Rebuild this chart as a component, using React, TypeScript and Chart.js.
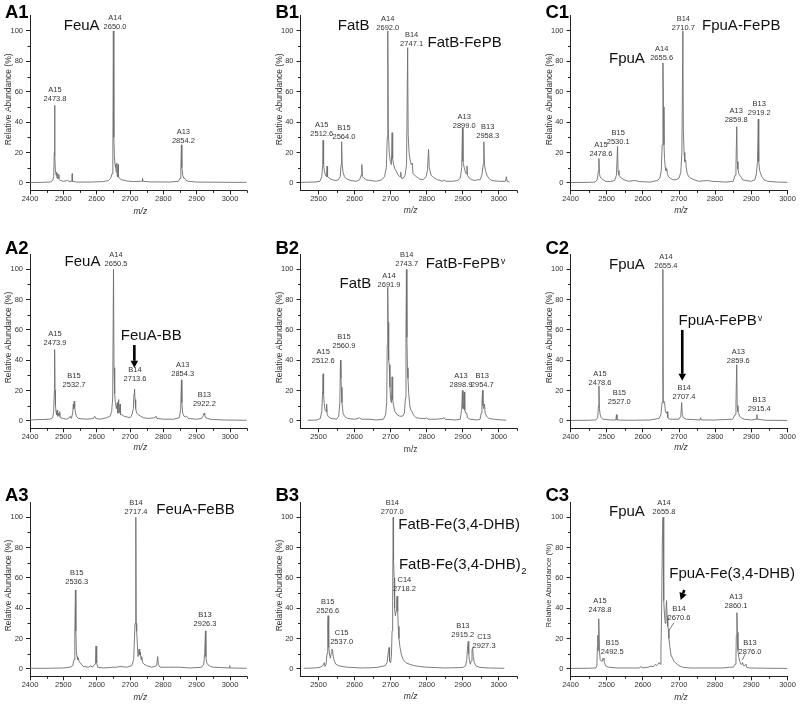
import React, { useEffect, useRef } from "react";
import { Chart, registerables } from "chart.js";
Chart.register(...registerables);

type Pt = [number, number];

// ---------- spectra (m/z, relative abundance %) ----------
const specA1: Pt[] = [[2400,0.2],[2440,0.3],[2462,0.6],[2468,1.5],[2471,4],[2473,20],[2473.8,51],[2474.8,18],[2476,9],[2478,5],[2479.5,7],[2481,3],[2483,6],[2484.5,3],[2486.5,5.5],[2488,2],[2492,1.5],[2500,1],[2512,1.5],[2520,0.8],[2525.5,1],[2526.5,6],[2527.5,1],[2540,0.5],[2580,0.5],[2620,0.8],[2635,1.5],[2642,3],[2646,6],[2648.5,15],[2650,100],[2651.5,30],[2653,18],[2655,12],[2657,10],[2659,7],[2660.5,13],[2661.5,5],[2663,4],[2664.5,12],[2665.5,4],[2668,3],[2675,2],[2690,1.2],[2710,0.8],[2736,1],[2737.5,3],[2739,1],[2760,0.6],[2820,0.5],[2845,1],[2850,3],[2852.5,8],[2854.2,25],[2855.5,10],[2858,5],[2861,3],[2864,3],[2868,1.5],[2875,1],[2900,0.5],[3000,0.3],[3050,0.3]];
const specA2: Pt[] = [[2400,0.5],[2430,0.8],[2460,1],[2468,2],[2471,6],[2473,20],[2473.9,47],[2475,20],[2476.5,10],[2478,6],[2480,4],[2481.5,7],[2483,3],[2485,5],[2487,3],[2489,6],[2491,2],[2500,1.5],[2510,1],[2518,2],[2521,3],[2524,1.5],[2528,5],[2530,11],[2531,8],[2532.7,13],[2534,9],[2536,6],[2539,3],[2545,1.5],[2570,1],[2590,1.5],[2594,3],[2597,1.5],[2610,1],[2630,2],[2640,3],[2645,6],[2648,15],[2650.5,100],[2652,35],[2654,18],[2656,12],[2659,8],[2662,12],[2663.5,5],[2666,14],[2667.5,5],[2670,11],[2671.5,4],[2675,4],[2682,3],[2690,2.5],[2700,2],[2706,4],[2710,8],[2712,18],[2713.6,21],[2715,14],[2717,8],[2720,5],[2725,4],[2732,3],[2740,2],[2755,1.5],[2775,2],[2778,3],[2781,1.5],[2800,1],[2830,1],[2848,2],[2852,8],[2854.3,27],[2855.5,12],[2858,5],[2862,3],[2866,2.5],[2870,3],[2875,1.5],[2900,1],[2915,1.5],[2919,3],[2922.2,5],[2924,4],[2927,2],[2940,1],[2980,0.5],[3050,0.3]];
const specA3: Pt[] = [[2400,0.3],[2450,0.3],[2500,0.5],[2520,1],[2528,2],[2532,6],[2534.5,25],[2536.3,52],[2537.5,25],[2539,12],[2541,8],[2543,6],[2545,7],[2547,5],[2550,4],[2554,3],[2560,1.5],[2575,1],[2583,2],[2586,1],[2596,3],[2598,15],[2600,4],[2603,1],[2620,0.5],[2650,1],[2660,1],[2670,1.5],[2690,1],[2705,2],[2711,6],[2715,30],[2717.4,100],[2718.5,30],[2720,25],[2722,16],[2724,8],[2727,13],[2729,9],[2731,11],[2733,6],[2735,8],[2738,4],[2742,3],[2750,2],[2765,1],[2780,2],[2783,8],[2785,3],[2790,1],[2815,1],[2850,1],[2880,0.5],[2915,1],[2921,3],[2924,10],[2926.3,25],[2927.5,8],[2930,4],[2934,2.5],[2938,2],[2942,1.5],[2950,1],[2997,0.5],[2999,2],[3001,0.5],[3050,0.3]];
const specB1: Pt[] = [[2450,0.3],[2490,0.5],[2504,1],[2509,4],[2511.5,12],[2512.6,28],[2514,12],[2516,8],[2519,5],[2522,4],[2523.5,11],[2525,4],[2530,3],[2538,2],[2548,1.5],[2555,2],[2560,4],[2562.5,12],[2564,27],[2565.5,12],[2568,7],[2572,4],[2578,2.5],[2590,1.5],[2605,1],[2614,2],[2618,5],[2620,12],[2622,4],[2626,3],[2632,2],[2645,1.5],[2660,1],[2675,2],[2683,4],[2688,10],[2690.5,30],[2692,100],[2693.5,35],[2696,20],[2699,14],[2702,12],[2704,33],[2705.5,16],[2708,12],[2712,9],[2717,7],[2721,5],[2726,4],[2728,7],[2730,3],[2735,3],[2740,5],[2744,12],[2747.1,89],[2748.5,32],[2751,20],[2754,15],[2757,12],[2760,13],[2762,6],[2766,5],[2772,4],[2780,2.5],[2790,2],[2798,4],[2802,8],[2805,22],[2807,10],[2812,5],[2817,4],[2822,3],[2830,2],[2845,1],[2849,2],[2852,1],[2870,1],[2885,1.5],[2893,3],[2897,10],[2899,36],[2900.5,14],[2903,11],[2906,8],[2909,6],[2911.5,11],[2913,5],[2918,3],[2925,2],[2935,1.5],[2940,2],[2948,2],[2953,5],[2956.5,12],[2958.3,27],[2960,12],[2963,8],[2967,5],[2972,3],[2980,1.5],[3000,1],[3018,1],[3021,4],[3023,1],[3030,0.5]];
const specB2: Pt[] = [[2470,0.3],[2495,0.5],[2505,1.5],[2509,6],[2511.5,20],[2512.6,31],[2514,18],[2515.5,12],[2518,7],[2521,6],[2522.5,11],[2524,4],[2528,2.5],[2535,1.5],[2550,1],[2556,3],[2559,12],[2560.9,40],[2562,28],[2563.5,22],[2565,12],[2568,5],[2572,3],[2580,1.5],[2600,1],[2610,1.5],[2614,2],[2618,1],[2640,1],[2660,0.5],[2680,1],[2686,4],[2689,12],[2690.5,50],[2691.9,88],[2693,65],[2694.5,40],[2696,37],[2698,22],[2700,14],[2702,12],[2704,29],[2705.5,14],[2708,10],[2712,6],[2718,4],[2725,3],[2733,3],[2738,5],[2741,15],[2742.5,60],[2743.7,100],[2745,55],[2746.5,35],[2748,28],[2750,18],[2753,10],[2756,7],[2759,6],[2763,4],[2770,2],[2785,1.5],[2797,1.5],[2800,2],[2803,1],[2830,1],[2845,1.5],[2848,2],[2851,1],[2880,0.5],[2893,1],[2897,8],[2898.9,20],[2900.5,8],[2902.5,8],[2904,19],[2905.5,7],[2908,5],[2911,5],[2913,2],[2920,1],[2940,0.5],[2948,1],[2951,5],[2953,12],[2954.7,20],[2956,10],[2958,8],[2960,11],[2962,5],[2966,3],[2972,1.5],[2985,1],[3020,0.3]];
const specB3: Pt[] = [[2460,0.3],[2490,0.5],[2505,1],[2512,2],[2516,4],[2518,1.5],[2521,3],[2523.5,10],[2525.5,30],[2526.6,35],[2527.5,20],[2529,14],[2531,9],[2533,7],[2535,10],[2537,13],[2539,12],[2541,8],[2544,5],[2548,3],[2555,2],[2565,1.5],[2580,1],[2620,0.5],[2660,0.8],[2685,2],[2690,4],[2694,12],[2695.5,14],[2697,5],[2700,4],[2702,8],[2704,25],[2705.5,45],[2707,100],[2708,72],[2709.5,60],[2711,40],[2713,35],[2715,38],[2716.5,46],[2718.2,48],[2719.5,38],[2721,28],[2723,20],[2726,14],[2730,9],[2735,6],[2742,4],[2752,3],[2765,2],[2780,1.5],[2800,1],[2850,0.5],[2900,0.8],[2908,2],[2911,6],[2913.5,15],[2915.2,18],[2916.5,10],[2918.5,5],[2921,3],[2923,5],[2925.5,12],[2927.3,14],[2929,8],[2932,4],[2936,2],[2945,1],[2970,0.5],[3015,0.3]];
const specC1: Pt[] = [[2400,0.2],[2450,0.3],[2468,0.5],[2474,2],[2477,8],[2478.6,16],[2480,6],[2482,4],[2485,3],[2490,2],[2497,1],[2510,0.8],[2522,1.5],[2527,5],[2530.1,24],[2531.5,8],[2534,5],[2537,4],[2541,3],[2548,2],[2560,1],[2578,1.5],[2590,0.8],[2620,0.5],[2640,1.5],[2647,3],[2651,8],[2653.5,25],[2655.6,79],[2657,50],[2658.5,25],[2660,16],[2662,10],[2664,8],[2666.5,9],[2668,6],[2671,4],[2676,3],[2683,2],[2692,2],[2700,3],[2705,7],[2708,20],[2710.7,100],[2712,35],[2714,20],[2716,14],[2718.5,15],[2720,10],[2723,6],[2727,4],[2733,3],[2742,2],[2755,1],[2778,1.5],[2790,1],[2830,0.5],[2850,1],[2855,5],[2857.5,12],[2859.8,37],[2861,14],[2863,9],[2865.5,6],[2868,5],[2871,4],[2876,2],[2885,1.5],[2900,1],[2910,2],[2914,6],[2917,14],[2919.2,42],[2920.5,14],[2923,8],[2926,6],[2929,4],[2935,2],[2945,1],[2970,0.5],[3000,0.3]];
const specC2: Pt[] = [[2400,0.2],[2450,0.3],[2470,0.5],[2475,2],[2477.5,10],[2478.6,23],[2480,8],[2482,4],[2485,2],[2490,1],[2510,0.5],[2525.5,0.5],[2527,4],[2528.5,0.5],[2560,0.3],[2620,0.5],[2645,1.5],[2650,4],[2653,12],[2655.4,100],[2656.5,13],[2658.5,12],[2660.5,11],[2662.5,6],[2665,5],[2667,6],[2669,2],[2675,1],[2700,1],[2705,3],[2707.4,12],[2709,4],[2712,2],[2720,1],[2758,0.5],[2760,2],[2762,0.5],[2800,0.5],[2848,1],[2855,4],[2857.5,12],[2859.6,37],[2861,10],[2863,6],[2865,5],[2867,3],[2872,2],[2880,1],[2900,0.5],[2913,1],[2915.4,4],[2917,1],[2940,0.3],[3000,0.2]];
const specC3: Pt[] = [[2400,0.2],[2450,0.3],[2470,0.5],[2473,2],[2474.5,15],[2475.5,22],[2476.5,12],[2477.5,24],[2478.8,33],[2480,12],[2482,6],[2485,5],[2488,5],[2490,7],[2492.5,6],[2494,4],[2497,2],[2505,1],[2530,0.5],[2590,0.5],[2595,1.5],[2598,0.5],[2615,1],[2620,1.5],[2630,1.5],[2635,3],[2638,2],[2642,3],[2645,4],[2648,3],[2650,10],[2652,40],[2654,85],[2655.8,100],[2657,67],[2658.5,45],[2660,35],[2662,30],[2664,38],[2665.5,45],[2667,35],[2669,28],[2670.6,26],[2672,20],[2675,14],[2678,9],[2682,7],[2686,5],[2690,4],[2695,3],[2700,2],[2710,1],[2730,0.5],[2780,0.5],[2820,0.5],[2840,1],[2850,1],[2855,3],[2857.5,8],[2858.5,22],[2860.1,37],[2861.5,24],[2863,12],[2865,8],[2868,5],[2871,3],[2874,3],[2876,4],[2878,2],[2882,2],[2885,3],[2887,1],[2895,0.5],[2950,0.3],[3000,0.2]];

// ---------- tick values ----------
const xTicksA = [2400, 2500, 2600, 2700, 2800, 2900, 3000];
const xMinorA = [2450, 2550, 2650, 2750, 2850, 2950, 3050];
const xTicksB = [2500, 2600, 2700, 2800, 2900, 3000];
const xMinorB = [2550, 2650, 2750, 2850, 2950, 3050];
const xTicksC = [2400, 2500, 2600, 2700, 2800, 2900, 3000];
const xMinorC = [2450, 2550, 2650, 2750, 2850, 2950];
const yTicks = [0, 20, 40, 60, 80, 100];
const yMinor = [10, 30, 50, 70, 90];

// ---------- peak annotations ----------
const namesA1 = ["A15", "A14", "A13"];
const mzA1 = ["2473.8", "2650.0", "2854.2"];
const namesA2 = ["A15", "B15", "A14", "B14", "A13", "B13"];
const mzA2 = ["2473.9", "2532.7", "2650.5", "2713.6", "2854.3", "2922.2"];
const namesA3 = ["B15", "B14", "B13"];
const mzA3 = ["2536.3", "2717.4", "2926.3"];
const namesB1 = ["A15", "B15", "A14", "B14", "A13", "B13"];
const mzB1 = ["2512.6", "2564.0", "2692.0", "2747.1", "2899.0", "2958.3"];
const namesB2 = ["A15", "B15", "A14", "B14", "A13", "B13"];
const mzB2 = ["2512.6", "2560.9", "2691.9", "2743.7", "2898.9", "2954.7"];
const namesB3 = ["B15", "C15", "B14", "C14", "B13", "C13"];
const mzB3 = ["2526.6", "2537.0", "2707.0", "2718.2", "2915.2", "2927.3"];
const namesC1 = ["A15", "B15", "A14", "B14", "A13", "B13"];
const mzC1 = ["2478.6", "2530.1", "2655.6", "2710.7", "2859.8", "2919.2"];
const namesC2 = ["A15", "B15", "A14", "B14", "A13", "B13"];
const mzC2 = ["2478.6", "2527.0", "2655.4", "2707.4", "2859.6", "2915.4"];
const namesC3 = ["A15", "B15", "A14", "B14", "A13", "B13"];
const mzC3 = ["2478.8", "2492.5", "2655.8", "2670.6", "2860.1", "2876.0"];

const FONT = '"Liberation Sans", Arial, Helvetica, sans-serif';

const rowGeo = [
  { top: 0, height: 225, chartTop: 15.8, chartBottom: 190.4, letterDy: -3.1 },
  { top: 225, height: 235, chartTop: 254.2, chartBottom: 428.3, letterDy: -4.9 },
  { top: 460, height: 244, chartTop: 502.2, chartBottom: 676.3, letterDy: -6.2 },
];
const colGeo = [
  { left: 0, width: 265, chartLeft: 30, chartRight: 246.7 },
  { left: 265, width: 270, chartLeft: 300.5, chartRight: 516.9 },
  { left: 535, width: 265, chartLeft: 570.5, chartRight: 787.5 },
];

type TextItem = { t: string; x: number; y: number; align?: CanvasTextAlign; sup?: string; sub?: string };
type Seg = { x1: number; y1: number; x2: number; y2: number };
type PanelCfg = {
  letter: string; row: number; col: number; spec: Pt[];
  xMin: number; xMax: number; xTicks: number[]; xMinor: number[];
  names: string[]; mzs: string[]; labelAt: Pt[];
  texts: TextItem[]; arrows?: Seg[]; leaders?: Seg[];
  xTitleDy: number; xTitleItalic: boolean; yTitleSize?: number;
};

const panels: PanelCfg[] = [
  { letter: "A1", row: 0, col: 0, spec: specA1, xMin: 2400, xMax: 3050, xTicks: xTicksA, xMinor: xMinorA,
    names: namesA1, mzs: mzA1, labelAt: [[2475, 55], [2655, 102.4], [2860, 27.5]],
    texts: [{ t: "FeuA", x: 2555, y: 103.6 }], xTitleDy: 21, xTitleItalic: true },
  { letter: "B1", row: 0, col: 1, spec: specB1, xMin: 2450, xMax: 3050, xTicks: xTicksB, xMinor: xMinorB,
    names: namesB1, mzs: mzB1, labelAt: [[2509, 32.1], [2570.6, 30.3], [2692, 102.2], [2758, 91.2], [2904, 37.2], [2969, 30.8]],
    texts: [{ t: "FatB", x: 2597.5, y: 103.1 }, { t: "FatB-FePB", x: 2905, y: 92.5 }], xTitleDy: 20.6, xTitleItalic: true },
  { letter: "C1", row: 0, col: 2, spec: specC1, xMin: 2400, xMax: 3000, xTicks: xTicksC, xMinor: xMinorC,
    names: namesC1, mzs: mzC1, labelAt: [[2484, 18.9], [2532, 27], [2652, 82.4], [2712, 102.2], [2858, 41.1], [2922, 45.7]],
    texts: [{ t: "FpuA", x: 2556, y: 81.7 }, { t: "FpuA-FePB", x: 2872, y: 103.2 }], xTitleDy: 20.6, xTitleItalic: true },
  { letter: "A2", row: 1, col: 0, spec: specA2, xMin: 2400, xMax: 3050, xTicks: xTicksA, xMinor: xMinorA,
    names: namesA2, mzs: mzA2, labelAt: [[2475, 51.1], [2532, 23.6], [2658, 103.3], [2715, 27.3], [2858, 30.8], [2923, 10.8]],
    texts: [{ t: "FeuA", x: 2557.5, y: 105 }, { t: "FeuA-BB", x: 2763.6, y: 56 }],
    arrows: [{ x1: 2713, y1: 50, x2: 2713, y2: 35 }], xTitleDy: 19, xTitleItalic: true },
  { letter: "B2", row: 1, col: 1, spec: specB2, xMin: 2450, xMax: 3050, xTicks: xTicksB, xMinor: xMinorB,
    names: namesB2, mzs: mzB2, labelAt: [[2513, 39.4], [2570.6, 49.5], [2695.4, 89.6], [2744.5, 103.3], [2895, 23.6], [2954, 23.6]],
    texts: [{ t: "FatB", x: 2602, y: 90.6 }, { t: "FatB-FePB", sup: "v", x: 2900, y: 103.6 }], xTitleDy: 21, xTitleItalic: false },
  { letter: "C2", row: 1, col: 2, spec: specC2, xMin: 2400, xMax: 3000, xTicks: xTicksC, xMinor: xMinorC,
    names: namesC2, mzs: mzC2, labelAt: [[2481.6, 24.7], [2535, 12.1], [2664, 102.4], [2714, 15.9], [2864, 39.4], [2922, 7.7]],
    texts: [{ t: "FpuA", x: 2556, y: 103 }, { t: "FpuA-FePB", sup: "v", x: 2807, y: 66 }],
    arrows: [{ x1: 2709, y1: 60, x2: 2709, y2: 26.4 }], xTitleDy: 19.5, xTitleItalic: true },
  { letter: "A3", row: 2, col: 0, spec: specA3, xMin: 2400, xMax: 3050, xTicks: xTicksA, xMinor: xMinorA,
    names: namesA3, mzs: mzA3, labelAt: [[2540, 57], [2718, 103.7], [2925, 29.5]],
    texts: [{ t: "FeuA-FeBB", x: 2896.5, y: 105 }], xTitleDy: 21, xTitleItalic: true },
  { letter: "B3", row: 2, col: 1, spec: specB3, xMin: 2450, xMax: 3050, xTicks: xTicksB, xMinor: xMinorB,
    names: namesB3, mzs: mzB3, labelAt: [[2525.4, 38.3], [2564, 17.8], [2704.6, 103.7], [2738, 52.4], [2900, 22.3], [2959, 15.2]],
    texts: [{ t: "FatB-Fe(3,4-DHB)", x: 2721, y: 94.9, align: "left" }, { t: "FatB-Fe(3,4-DHB)", sub: "2", x: 2723, y: 68.5, align: "left" }],
    xTitleDy: 20, xTitleItalic: true },
  { letter: "C3", row: 2, col: 2, spec: specC3, xMin: 2400, xMax: 3000, xTicks: xTicksC, xMinor: xMinorC,
    names: namesC3, mzs: mzC3, labelAt: [[2481.6, 38.8], [2515.6, 11.2], [2658.6, 103.7], [2700, 33.3], [2857.7, 41.6], [2896.4, 10.8]],
    texts: [{ t: "FpuA", x: 2556, y: 103.5 }, { t: "FpuA-Fe(3,4-DHB)", x: 2847, y: 62.5 }],
    arrows: [{ x1: 2714.7, y1: 52, x2: 2704.6, y2: 45.4 }],
    leaders: [{ x1: 2686, y1: 30.4, x2: 2673, y2: 25.6 }, { x1: 2882.6, y1: 9.5, x2: 2875, y2: 5.7 }],
    xTitleDy: 21, xTitleItalic: true, yTitleSize: 7.8 },
];

const Y_W = 20;
const X_H = 18;

function drawArrow(ctx: CanvasRenderingContext2D, x1: number, y1: number, x2: number, y2: number) {
  const dx = x2 - x1, dy = y2 - y1;
  const len = Math.hypot(dx, dy);
  const ux = dx / len, uy = dy / len;
  const head = 7, hw = 3.8;
  const bx = x2 - ux * head, by = y2 - uy * head;
  ctx.strokeStyle = "#000";
  ctx.lineWidth = 2.6;
  ctx.beginPath();
  ctx.moveTo(x1, y1);
  ctx.lineTo(bx, by);
  ctx.stroke();
  ctx.fillStyle = "#000";
  ctx.beginPath();
  ctx.moveTo(x2, y2);
  ctx.lineTo(bx - uy * hw, by + ux * hw);
  ctx.lineTo(bx + uy * hw, by - ux * hw);
  ctx.closePath();
  ctx.fill();
}

function makePlugin(cfg: PanelCfg) {
  return {
    id: "annot" + cfg.letter,
    afterDraw(chart: any) {
      const { ctx, chartArea: ca } = chart;
      const xs = chart.scales.x, ys = chart.scales.y;
      const px = (v: number) => xs.getPixelForValue(v);
      const py = (v: number) => ys.getPixelForValue(v);
      ctx.save();
      // minor ticks
      ctx.strokeStyle = "#222";
      ctx.lineWidth = 1;
      ctx.beginPath();
      cfg.xMinor.forEach((v) => {
        if (v < cfg.xMin || v > cfg.xMax) return;
        const x = Math.round(px(v)) + 0.5;
        ctx.moveTo(x, ca.bottom);
        ctx.lineTo(x, ca.bottom + 2.5);
      });
      yMinor.forEach((v) => {
        const y = Math.round(py(v)) + 0.5;
        ctx.moveTo(ca.left, y);
        ctx.lineTo(ca.left - 2.5, y);
      });
      ctx.stroke();

      // peak labels
      ctx.fillStyle = "#333";
      ctx.font = `7.5px ${FONT}`;
      ctx.textAlign = "center";
      ctx.textBaseline = "middle";
      cfg.labelAt.forEach(([lx, ly], i) => {
        const x = px(lx), y = py(ly);
        ctx.fillText(cfg.mzs[i], x, y);
        ctx.fillText(cfg.names[i], x, y - 9);
      });

      // leader lines
      (cfg.leaders || []).forEach((s) => {
        ctx.strokeStyle = "#444";
        ctx.lineWidth = 0.7;
        ctx.beginPath();
        ctx.moveTo(px(s.x1), py(s.y1));
        ctx.lineTo(px(s.x2), py(s.y2));
        ctx.stroke();
      });

      // big labels
      ctx.fillStyle = "#111";
      cfg.texts.forEach((tx) => {
        ctx.font = `15px ${FONT}`;
        ctx.textAlign = tx.align || "center";
        ctx.textBaseline = "middle";
        const x = px(tx.x), y = py(tx.y);
        ctx.fillText(tx.t, x, y);
        const w = ctx.measureText(tx.t).width;
        const right = tx.align === "left" ? x + w : x + w / 2;
        if (tx.sup) {
          ctx.font = `8.5px ${FONT}`;
          ctx.textAlign = "left";
          ctx.textBaseline = "middle";
          ctx.fillText(tx.sup, right + 1, y - 2.5);
        }
        if (tx.sub) {
          ctx.font = `9.5px ${FONT}`;
          ctx.textAlign = "left";
          ctx.textBaseline = "middle";
          ctx.fillText(tx.sub, right + 0.5, y + 6);
        }
      });

      // arrows
      (cfg.arrows || []).forEach((a) => drawArrow(ctx, px(a.x1), py(a.y1), px(a.x2), py(a.y2)));

      // panel letter
      ctx.fillStyle = "#000";
      ctx.font = `bold 18.5px ${FONT}`;
      ctx.textAlign = "left";
      ctx.textBaseline = "middle";
      ctx.fillText(cfg.letter, ca.left - 25, ca.top + rowGeo[cfg.row].letterDy);

      // axis titles
      ctx.fillStyle = "#333";
      ctx.font = `${cfg.xTitleItalic ? "italic " : ""}8.5px ${FONT}`;
      ctx.textAlign = "center";
      ctx.textBaseline = "middle";
      ctx.fillText("m/z", (ca.left + ca.right) / 2 + 2, ca.bottom + cfg.xTitleDy);

      ctx.save();
      ctx.translate(ca.left - 21.3, py(55));
      ctx.rotate(-Math.PI / 2);
      ctx.font = `${cfg.yTitleSize || 8.5}px ${FONT}`;
      ctx.fillText("Relative Abundance (%)", 0, 0);
      ctx.restore();

      ctx.restore();
    },
  };
}

function Panel({ cfg }: { cfg: PanelCfg }) {
  const ref = useRef<HTMLCanvasElement | null>(null);
  const row = rowGeo[cfg.row];
  const col = colGeo[cfg.col];
  useEffect(() => {
    if (!ref.current) return;
    const tickFont = { family: FONT, size: 7.5 };
    const chart = new Chart(ref.current, {
      type: "scatter",
      data: {
        datasets: [
          {
            data: cfg.spec.map(([x, y]) => ({ x, y })),
            showLine: true,
            pointRadius: 0,
            borderColor: "#6e6e6e",
            borderWidth: 0.9,
            tension: 0,
          } as any,
        ],
      },
      options: {
        animation: false,
        responsive: false,
        devicePixelRatio: 1,
        layout: {
          padding: {
            left: col.chartLeft - col.left - Y_W,
            right: col.left + col.width - col.chartRight,
            top: row.chartTop - row.top,
            bottom: row.top + row.height - row.chartBottom - X_H,
          },
        },
        plugins: { legend: { display: false }, tooltip: { enabled: false } },
        scales: {
          x: {
            type: "linear",
            min: cfg.xMin,
            max: cfg.xMax,
            afterBuildTicks: (s: any) => {
              s.ticks = cfg.xTicks.map((v) => ({ value: v }));
            },
            afterFit: (s: any) => {
              s.height = X_H;
            },
            border: { display: true, color: "#222", width: 1 },
            grid: { drawOnChartArea: false, drawTicks: true, tickLength: 4, color: "#222", lineWidth: 1 },
            ticks: { font: tickFont, color: "#333", padding: 0, maxRotation: 0, autoSkip: false, callback: (v: any) => String(v) },
          },
          y: {
            type: "linear",
            min: -5,
            max: 110,
            afterBuildTicks: (s: any) => {
              s.ticks = yTicks.map((v) => ({ value: v }));
            },
            afterFit: (s: any) => {
              s.width = Y_W;
            },
            border: { display: true, color: "#222", width: 1 },
            grid: { drawOnChartArea: false, drawTicks: true, tickLength: 4, color: "#222", lineWidth: 1 },
            ticks: { font: tickFont, color: "#333", padding: 3, autoSkip: false, callback: (v: any) => String(v) },
          },
        },
      } as any,
      plugins: [makePlugin(cfg)],
    });
    return () => chart.destroy();
  }, []);
  return (
    <canvas
      ref={ref}
      width={col.width}
      height={row.height}
      style={{ position: "absolute", left: col.left, top: row.top, width: col.width, height: row.height }}
    />
  );
}

export default function App() {
  return (
    <div style={{ position: "fixed", left: 0, top: 0, width: 800, height: 704, background: "#fff", overflow: "hidden" }}>
      {panels.map((p) => (
        <Panel key={p.letter} cfg={p} />
      ))}
    </div>
  );
}
